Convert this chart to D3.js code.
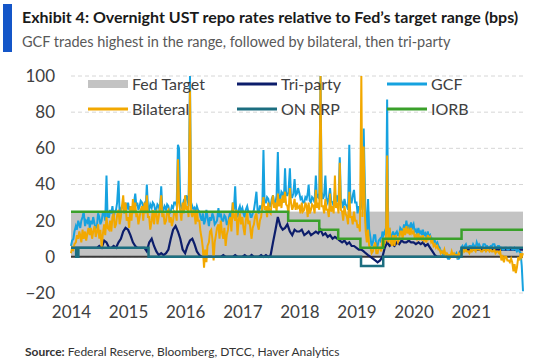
<!DOCTYPE html>
<meta charset="utf-8">
<style>
  body { margin: 0; background: #fff; }
  text { font-family: Lato, "Open Sans", sans-serif; }
  .grid line { stroke: #d6d6d6; stroke-dasharray: 4,3; }
  .tick text { fill: #404040; font-size: 17px; }
  .legend text { fill: #404040; font-size: 16px; }
</style>
<svg width="557" height="361"></svg>
<script src="https://d3js.org/d3.v7.min.js"></script>
<script>
// weekly readings (1st, 8th, 16th, 23rd of each month), Jan 2014 - Dec 2021
// bps over the bottom of the Fed target range
var gcf = [
  // 2014
  6, 9, 10, 14, 17, 15, 20, 18, 16, 20, 22, 25, 17, 20, 19, 22, 16, 20, 18, 22, 18, 16, 17, 24,
  22, 18, 20, 24, 24, 20, 45, 22, 22, 26, 24, 28, 22, 25, 26, 30, 42, 24, 26, 28, 28, 24, 30, 26,
  // 2015
  30, 26, 28, 24, 27, 30, 35, 28, 30, 26, 28, 31, 30, 27, 29, 26, 40, 28, 26, 29, 27, 30, 29, 26,
  26, 29, 28, 25, 39, 27, 26, 28, 26, 29, 28, 24, 25, 28, 27, 30, 30, 28, 62, 60, 30, 27, 28, 31,
  // 2016
  30, 34, 32, 28, 100, 30, 28, 26, 27, 25, 28, 26, 25, 22, 20, 24, 18, 20, 26, 22, 17, 22, 20, 24,
  22, 18, 19, 20, 27, 22, 24, 20, 20, 23, 22, 18, 18, 22, 25, 20, 30, 26, 39, 24, 22, 26, 28, 25,
  // 2017
  27, 24, 22, 26, 28, 25, 25, 22, 22, 24, 26, 30, 36, 26, 24, 28, 28, 25, 59, 30, 30, 33, 32, 28,
  28, 32, 34, 30, 30, 34, 58, 32, 32, 36, 35, 30, 49, 34, 34, 36, 49, 33, 33, 35, 43, 34, 35, 38,
  // 2018
  35, 32, 33, 30, 30, 33, 32, 35, 40, 31, 30, 33, 32, 30, 45, 33, 34, 32, 100, 36, 32, 34, 45, 32,
  30, 33, 38, 31, 30, 28, 36, 30, 34, 30, 55, 32, 30, 27, 32, 29, 28, 26, 62, 30, 30, 34, 37, 30,
  // 2019
  30, 24, 28, 26, 35, 26, 71, 41, 20, 12, 32, 15, 10, 6, 8, 12, 12, 6, 6, 9, 10, 8, 14, 12,
  14, 12, 87, 14, 15, 12, 10, 14, 10, 13, 14, 12, 12, 16, 15, 13, 18, 14, 20, 16, 17, 14, 19, 16,
  // 2020
  18, 14, 15, 13, 16, 13, 14, 12, 15, 12, 13, 11, 14, 11, 12, 10, 10, 8, 9, 7, 8, 6, 5, 3,
  3, 1, 1, 0, 0, -1, -1, 1, 1, 0, 0, 1, 2, -1, -1, 0, 5, 6, 4, 6, 7, 5, 5, 6,
  // 2021
  6, 5, 7, 6, 5, 8, 6, 7, 6, 5, 5, 7, 7, 6, 6, 5, 5, 6, 6, 7, 7, 5, 5, 6,
  6, 5, 5, 4, 4, 5, 5, 4, 4, 5, 5, 4, 4, 5, 4, 3, 4, 3, 2, -5, -19
];
var bilateral = [
  // 2014
  2, 5, 4, 7, 8, 12, 10, 14, 12, 8, 15, 10, 14, 9, 13, 16, 12, 16, 10, 14, 17, 11, 14, 18,
  10, 15, 5, 12, 18, 12, 22, 16, 15, 20, 14, 22, 24, 16, 18, 23, 26, 18, 22, 28, 34, 24, 30, 20,
  // 2015
  22, 16, 28, 20, 32, 24, 30, 22, 24, 18, 22, 26, 28, 20, 30, 24, 34, 22, 22, 15, 20, 26, 18, 24,
  25, 18, 22, 27, 34, 22, 24, 18, 20, 25, 26, 19, 22, 17, 20, 25, 24, 20, 54, 30, 25, 20, 30, 24,
  // 2016
  34, 26, 28, 22, 92, 25, 22, 26, 24, 18, 26, 20, 20, 14, 10, 5, -6, 4, -3, 6, 8, 14, 15, 10,
  -2, 8, 12, 16, 18, 10, 20, 14, 10, 16, 6, 12, 15, 20, 22, 14, 30, 22, 20, 26, 12, 20, 24, 18,
  // 2017
  22, 16, 12, 20, 25, 18, 20, 14, 10, 16, 18, 22, 24, 18, 15, 20, 22, 28, 33, 26, 28, 22, 30, 25,
  24, 30, 34, 27, 30, 25, 35, 28, 32, 27, 34, 30, 36, 29, 28, 24, 38, 30, 26, 28, 32, 26, 30, 27,
  // 2018
  28, 24, 30, 25, 26, 30, 28, 22, 30, 24, 26, 29, 28, 24, 37, 27, 30, 26, 100, 28, 28, 24, 32, 26,
  26, 22, 35, 25, 28, 24, 45, 27, 30, 24, 52, 26, 25, 20, 28, 24, 22, 18, 36, 22, 22, 18, 25, 20,
  // 2019
  20, 16, 18, 14, 100, 22, 61, 25, 14, 8, 15, 6, 5, 2, 3, 6, 8, 2, 2, 5, 5, 3, 10, 6,
  8, 10, 56, 8, 16, 8, 6, 12, 6, 12, 10, 8, 10, 14, 14, 10, 16, 12, 17, 13, 15, 12, 16, 13,
  // 2020
  14, 11, 12, 10, 13, 10, 11, 9, 12, 9, 10, 8, 12, 10, 11, 8, 9, 6, 7, 5, 6, 4, 4, 2,
  3, 2, 4, 1, 2, 1, 1, 0, 3, 1, 2, 1, 1, 0, 2, 1, 3, 2, 4, 3, 4, 3, 3, 2,
  // 2021
  4, 3, 4, 4, 3, 5, 4, 4, 4, 3, 3, 4, 4, 3, 4, 4, 3, 4, 3, 3, 4, 2, 3, 3,
  2, 3, -2, 1, -3, 0, 0, -2, -2, -3, -1, -3, -8, -4, -9, -6, 0, -2, 2, 0, 2
];
// semi-monthly readings (1st and 16th)
var triParty = [
  // 2014
  5, 5, 5, 5, 5, 5, 5, 5, 5, 5, 5, 5, 6, 5, 9, 8, 5, 5, 6, 5, 8, 10, 14, 16,
  // 2015
  15, 12, 8, 6, 5, 5, 5, 5, 3, 8, 10, 6, 3, 1, 2, 1, 2, 4, 10, 15, 17, 14, 10, 4,
  // 2016
  2, 6, 9, 10, 7, 3, 1, 0, 0, 0, 0, 0, 0, 0, 0, 0, 1, 0, 0, 0, 0, 1, 0, 0,
  // 2017
  0, 1, 0, 0, 1, 0, 0, 0, 1, 0, 1, 0, 1, 8, 15, 22, 17, 15, 16, 18, 14, 12, 15, 14,
  // 2018
  14, 15, 12, 13, 14, 12, 13, 14, 13, 15, 12, 13, 11, 12, 10, 11, 10, 9, 8, 9, 7, 8, 6, 6,
  // 2019
  5, 4, 4, 3, 2, 1, 0, -1, -2, -3, -2, 0, 5, 8, 6, 7, 6, 8, 7, 9, 8, 8, 9, 8,
  // 2020
  8, 7, 8, 7, 8, 6, 7, 5, 3, 1, 0, 0, 0, 0, 0, 0, 0, 0, 0, 0, 4, 4, 4, 4,
  // 2021
  4, 4, 4, 4, 4, 4, 4, 4, 4, 4, 4, 4, 4, 4, 4, 4, 4, 4, 4, 4, 4, 4, 4
];
// step series: [date, value]
var onRrp = [["2014-01-01", 5], ["2014-02-03", 0], ["2014-02-17", 5], ["2015-05-12", 0],
  ["2019-01-30", -5], ["2019-06-21", 0], ["2020-11-03", 5], ["2021-12-01", 5]];
var iorb = [["2014-01-01", 25], ["2017-10-21", 20], ["2018-05-08", 15], ["2018-09-06", 10],
  ["2019-01-26", 5], ["2019-06-21", 10], ["2020-11-03", 15], ["2021-12-01", 15]];
var fedTarget = [0, 25];
var yTicks = [-20, 0, 20, 40, 60, 80, 100];
var xYears = [2014, 2015, 2016, 2017, 2018, 2019, 2020, 2021];

var svg = d3.select("svg");
var parse = d3.timeParse("%Y-%m-%d");

function dateAt(i, perMonth) {
  var m = Math.floor(i / perMonth);
  var day = perMonth === 4 ? [1, 8, 16, 23][i % 4] : [1, 16][i % 2];
  return new Date(2014 + Math.floor(m / 12), m % 12, day);
}

var x = d3.scaleTime().domain([new Date(2014, 0, 1), new Date(2021, 11, 1)]).range([71, 523]);
var y = d3.scaleLinear().domain([-20, 100]).range([293, 76]);

// title block
svg.append("rect").attr("x", 3).attr("y", 4).attr("width", 9).attr("height", 48).attr("fill", "#1456c8");
svg.append("text").attr("x", 22).attr("y", 23).attr("font-weight", "bold").attr("font-size", 16)
  .attr("fill", "#1a1a1a").text("Exhibit 4: Overnight UST repo rates relative to Fed’s target range (bps)");
svg.append("text").attr("x", 22).attr("y", 47).attr("font-size", 14.5).attr("fill", "#595959")
  .text("GCF trades highest in the range, followed by bilateral, then tri-party");

// grid
svg.append("g").attr("class", "grid").selectAll("line").data(yTicks).enter().append("line")
  .attr("x1", 71).attr("x2", 525).attr("y1", function(d) { return y(d); }).attr("y2", function(d) { return y(d); });

// fed target band
svg.append("rect").attr("x", x.range()[0]).attr("width", x.range()[1] - x.range()[0])
  .attr("y", y(fedTarget[1])).attr("height", y(fedTarget[0]) - y(fedTarget[1])).attr("fill", "#c3c3c3");
svg.append("line").attr("x1", x.range()[0]).attr("x2", x.range()[1])
  .attr("y1", y(fedTarget[0])).attr("y2", y(fedTarget[0])).attr("stroke", "#3a3a3a").attr("stroke-width", 2);

function series(perMonth) {
  return d3.line().x(function(d, i) { return x(dateAt(i, perMonth)); }).y(function(d) { return y(d); });
}
var step = d3.line().curve(d3.curveStepAfter)
  .x(function(d) { return x(parse(d[0])); }).y(function(d) { return y(d[1]); });

svg.append("path").datum(triParty).attr("d", series(2)).attr("fill", "none").attr("stroke", "#0c1d6b").attr("stroke-width", 2.2);
svg.append("path").datum(gcf).attr("d", series(4)).attr("fill", "none").attr("stroke", "#16a2df").attr("stroke-width", 2);
svg.append("path").datum(bilateral).attr("d", series(4)).attr("fill", "none").attr("stroke", "#f2a800").attr("stroke-width", 2);
svg.append("path").datum(onRrp).attr("d", step).attr("fill", "none").attr("stroke", "#1c6e80").attr("stroke-width", 2.5);
svg.append("path").datum(iorb).attr("d", step).attr("fill", "none").attr("stroke", "#3aa02a").attr("stroke-width", 2.5);

// axes
var yAxis = svg.append("g").attr("transform", "translate(55,0)")
  .call(d3.axisLeft(y).tickValues(yTicks).tickSize(0).tickPadding(0));
yAxis.select(".domain").remove();
var xAxis = svg.append("g").attr("transform", "translate(0,306)")
  .call(d3.axisBottom(x).tickValues(xYears.map(function(d) { return new Date(d, 0, 1); }))
    .tickFormat(d3.timeFormat("%Y")).tickSize(0).tickPadding(0));
xAxis.select(".domain").remove();
xAxis.selectAll("text").attr("dy", "0.71em");

// legend
var legendItems = [
  {name: "Fed Target", color: "#c3c3c3", box: true, x: 88, y: 84},
  {name: "Bilateral", color: "#f2a800", x: 88, y: 109},
  {name: "Tri-party", color: "#0c1d6b", x: 237, y: 84},
  {name: "ON RRP", color: "#1c6e80", x: 237, y: 109},
  {name: "GCF", color: "#16a2df", x: 387, y: 84},
  {name: "IORB", color: "#3aa02a", x: 387, y: 109}
];
var legend = svg.append("g").attr("class", "legend").selectAll("g").data(legendItems).enter().append("g")
  .attr("transform", function(d) { return "translate(" + d.x + "," + d.y + ")"; });
legend.append("rect").attr("x", 0).attr("width", 40)
  .attr("y", function(d) { return d.box ? -4 : -1.5; }).attr("height", function(d) { return d.box ? 8 : 3; })
  .attr("fill", function(d) { return d.color; });
legend.append("text").attr("x", 44).attr("dy", "0.35em").text(function(d) { return d.name; });

// source
var src = svg.append("text").attr("x", 25).attr("y", 356).attr("font-size", 12).attr("fill", "#333");
src.append("tspan").attr("font-weight", "bold").text("Source:");
src.append("tspan").text("  Federal Reserve, Bloomberg, DTCC, Haver Analytics");
</script>
